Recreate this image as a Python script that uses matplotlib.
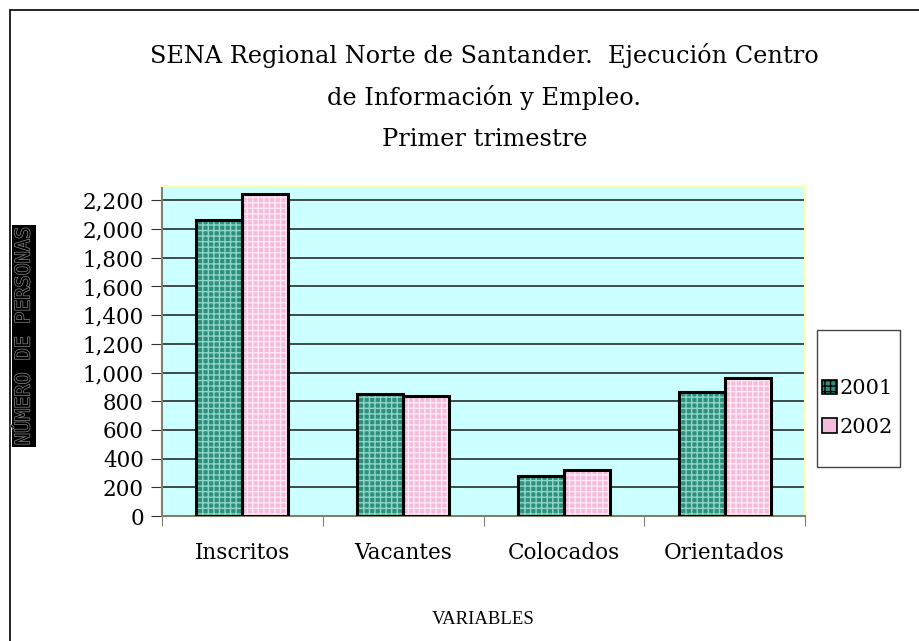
import matplotlib

matplotlib.use("Agg")

import matplotlib.pyplot as plt  # noqa: E402
import matplotlib.patheffects as pe  # noqa: E402
from matplotlib.patches import Patch, Rectangle  # noqa: E402

# data
categories = ["Inscritos", "Vacantes", "Colocados", "Orientados"]
years = ["2001", "2002"]
values_2001 = [2060, 850, 280, 865]
values_2002 = [2242, 838, 320, 962]
y_ticks = list(range(0, 2201, 200))

title_lines = [
    "SENA Regional Norte de Santander.  Ejecución Centro",
    "de Información y Empleo.",
    "Primer trimestre",
]

serif = "DejaVu Serif"
green = "#2f8f7e"
green_hatch = "#8fd6c6"
pink = "#f4bcdc"
pink_hatch = "#fde8f3"

figure = plt.figure(figsize=(9.19, 6.41), dpi=100)
axis = figure.add_axes([0.1763, 0.195, 0.6997, 0.5148])
axis.set_facecolor("#ccffff")

# outer frame of the chart object
figure.add_artist(Rectangle((10 / 919, -0.1), 1.2, 1 - 10 / 641 + 0.1,
                            transform=figure.transFigure, fill=False,
                            edgecolor="black", linewidth=1.2, zorder=-2))

width = 0.286
positions = range(len(categories))
for offset, values, color, hatch_color in (
    (-width / 2, values_2001, green, green_hatch),
    (width / 2, values_2002, pink, pink_hatch),
):
    x = [p + offset for p in positions]
    axis.bar(x, values, width, color=color, edgecolor=hatch_color,
             hatch="+++", linewidth=0, zorder=3)
    axis.bar(x, values, width, fill=False, edgecolor="black",
             linewidth=2.2, zorder=4)

axis.set_xlim(-0.5, len(categories) - 0.5)
axis.set_ylim(0, 2300)
axis.set_yticks(y_ticks)
axis.set_yticklabels([f"{v:,}" for v in y_ticks], fontsize=15.5, family=serif)
axis.grid(True, axis="y", color="#1a1a1a", linewidth=1.1, zorder=1)
axis.set_axisbelow(True)

axis.set_xticks([p - 0.5 for p in range(len(categories) + 1)])
axis.set_xticklabels([])
axis.set_xticks(list(positions), minor=True)
axis.set_xticklabels(categories, minor=True, fontsize=15.5, family=serif)
axis.tick_params(axis="x", which="minor", length=0, pad=19)
axis.tick_params(axis="x", which="major", length=7, direction="out",
                 color="#808070")
axis.tick_params(axis="y", length=8, direction="out", color="#333333",
                 pad=5)

for side in ("left", "bottom"):
    axis.spines[side].set_color("#808070")
    axis.spines[side].set_linewidth(1.5)
for side in ("top", "right"):
    axis.spines[side].set_color("#ffffb0")
    axis.spines[side].set_linewidth(1.5)

for i, line in enumerate(title_lines):
    figure.text(0.527, 1 - (55 + 42.5 * i) / 641, line, ha="center",
                va="center", fontsize=17.3, family=serif)

figure.text(0.526, 1 - 620 / 641, "VARIABLES", ha="center", va="center",
            fontsize=13.5, family="Liberation Serif")

figure.text(24 / 919, 1 - 336 / 641, "NÚMERO DE PERSONAS", rotation=90,
            ha="center", va="center", fontsize=14.5, family="DejaVu Sans Mono",
            color="black",
            path_effects=[pe.withStroke(linewidth=1, foreground="#8a8a8a")],
            bbox=dict(boxstyle="square,pad=0.1", facecolor="black",
                      edgecolor="none"))

# legend frame drawn separately (below the axes), entries placed inside it
figure.add_artist(Rectangle((817 / 919, 1 - 467 / 641), 83 / 919, 137 / 641,
                            transform=figure.transFigure, facecolor="white",
                            edgecolor="#444444", linewidth=1.0, zorder=-1))
handles = [
    Patch(facecolor=green, edgecolor="black", hatch="+++", linewidth=1.2),
    Patch(facecolor=pink, edgecolor="black", linewidth=1.2),
]
legend = axis.legend(handles, years, loc="center left",
                     bbox_to_anchor=(822 / 919, 1 - 408 / 641),
                     bbox_transform=figure.transFigure, frameon=False,
                     handlelength=0.7, handleheight=0.7, handletextpad=0.15,
                     labelspacing=0.95, borderpad=0, borderaxespad=0,
                     prop={"family": serif, "size": 15})

figure.savefig("out.png", dpi=100)
